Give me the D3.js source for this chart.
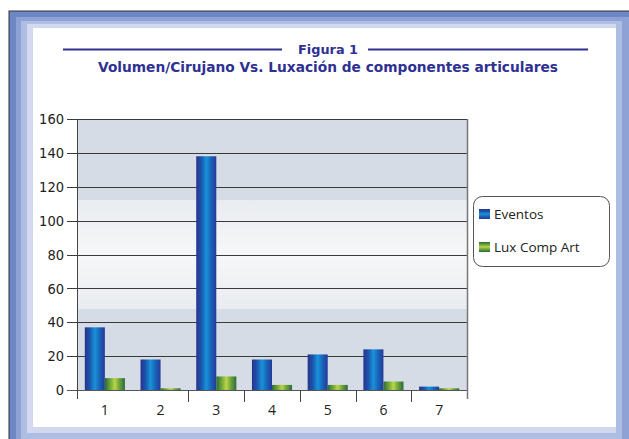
<!DOCTYPE html>
<head>
<meta charset='utf-8'>
<style>
  body { margin: 0; background: #fff; }
  svg { display: block; }
  .ylab { font-family: 'Liberation Sans Narrow', 'DejaVu Sans Condensed', sans-serif; font-size: 14.5px; fill: #222; }
  .xlab { font-family: 'Open Sans', 'Noto Sans', sans-serif; font-size: 14px; fill: #222; }
  .title { font-family: 'DejaVu Sans', sans-serif; font-weight: bold; fill: #2e3192; }
  .legend text { font-family: 'Open Sans', 'Noto Sans', sans-serif; font-size: 13.5px; fill: #222; }
</style>
</head>
<body>
<div id='vis'></div>
<script src='https://d3js.org/d3.v7.min.js'></script>
<script>
  const categories = ['1', '2', '3', '4', '5', '6', '7']
  const series = ['Eventos', 'Lux Comp Art']
  const eventos = [37, 18, 138, 18, 21, 24, 2]
  const luxCompArt = [7, 1, 8, 3, 3, 5, 1]
  const yTicks = [0, 20, 40, 60, 80, 100, 120, 140, 160]
  const titleTop = 'Figura 1'
  const titleMain = 'Volumen/Cirujano Vs. Luxación de componentes articulares'

  const W = 629, H = 439
  const plot = {left: 77, right: 467, top: 119, bottom: 390}

  const rows = categories.map((c, i) => ({cat: c, values: [eventos[i], luxCompArt[i]]}))

  const svg = d3.select('#vis').append('svg')
    .attr('width', W).attr('height', H)

  const defs = svg.append('defs')
  function grad(id, stops, vertical) {
    const g = defs.append('linearGradient').attr('id', id)
      .attr('x1', 0).attr('y1', 0)
      .attr('x2', vertical ? 0 : 1).attr('y2', vertical ? 1 : 0)
    stops.forEach(s => g.append('stop').attr('offset', s[0]).attr('stop-color', s[1]))
  }
  const blueStops = [[0, '#28338e'], [0.25, '#1b55ab'], [0.5, '#1a92da'], [0.75, '#1862b6'], [1, '#263a98']]
  const greenStops = [[0, '#2b6c36'], [0.3, '#79ad38'], [0.5, '#b9d64c'], [0.7, '#74a83a'], [1, '#2b6b3c']]
  grad('gBlue', blueStops, false)
  grad('gGreen', greenStops, false)
  grad('gBlueV', blueStops, true)
  grad('gGreenV', greenStops, true)
  grad('gBg', [[0, '#d6dce6'], [0.3, '#d6dce6'], [0.3, '#e9ecf0'], [0.5, '#f6f7f8'], [0.7, '#e9ecf0'], [0.7, '#d6dce6'], [1, '#d6dce6']], true)

  // cadre bleu
  const frame = [
    {x: 9, y: 11, fill: '#6c87c4', stroke: '#333'},
    {x: 16, y: 17, fill: '#8ea2d6'},
    {x: 21, y: 21, fill: '#aebde3'},
    {x: 27, y: 24, fill: '#d2d9ef'},
    {x: 33, y: 28, fill: '#ffffff'}
  ]
  const rightEdge = [660, 660, 622, 616, 616]
  const bottomEdge = [460, 460, 439, 433, 427]
  frame.forEach((f, i) => {
    svg.append('rect')
      .attr('x', f.x).attr('y', f.y)
      .attr('width', rightEdge[i] - f.x).attr('height', bottomEdge[i] - f.y)
      .attr('fill', f.fill)
      .attr('stroke', f.stroke || 'none')
  })

  // titre
  svg.append('line').attr('x1', 63).attr('x2', 282).attr('y1', 49.5).attr('y2', 49.5)
    .attr('stroke', '#2e3192').attr('stroke-width', 2)
  svg.append('line').attr('x1', 368).attr('x2', 588).attr('y1', 49.5).attr('y2', 49.5)
    .attr('stroke', '#2e3192').attr('stroke-width', 2)
  svg.append('text').attr('class', 'title')
    .attr('x', 328).attr('y', 54).attr('text-anchor', 'middle')
    .attr('font-size', 13).attr('textLength', 60).attr('lengthAdjust', 'spacingAndGlyphs')
    .text(titleTop)
  svg.append('text').attr('class', 'title')
    .attr('x', 328).attr('y', 72).attr('text-anchor', 'middle')
    .attr('font-size', 13.5).attr('textLength', 460).attr('lengthAdjust', 'spacingAndGlyphs')
    .text(titleMain)

  const x0 = d3.scaleBand().domain(categories).range([plot.left, plot.right]).paddingInner(0.28).paddingOuter(0.14)
  const x1 = d3.scaleBand().domain(series).range([0, x0.bandwidth()])
  const y = d3.scaleLinear().domain([0, 160]).range([plot.bottom, plot.top])
  const step = x0.step()

  // fond
  svg.append('rect').attr('x', plot.left).attr('y', plot.top)
    .attr('width', plot.right - plot.left).attr('height', plot.bottom - plot.top)
    .attr('fill', 'url(#gBg)')

  // grille + graduations
  svg.append('g').selectAll('line').data(yTicks).join('line')
    .attr('x1', plot.left - 10).attr('x2', plot.right)
    .attr('y1', d => Math.round(y(d)) + 0.5).attr('y2', d => Math.round(y(d)) + 0.5)
    .attr('stroke', d => d === 0 ? '#555' : '#3a3a3a').attr('stroke-width', 1)

  svg.append('g').selectAll('text').data(yTicks).join('text')
    .attr('class', 'ylab')
    .attr('x', plot.left - 13).attr('y', d => y(d)).attr('dy', '0.36em')
    .attr('text-anchor', 'end')
    .text(d => d)

  // barres
  const groups = svg.append('g').selectAll('g').data(rows).join('g')
    .attr('transform', d => `translate(${x0(d.cat)},0)`)
  groups.selectAll('rect').data(d => d.values.map((v, i) => ({key: series[i], v: v})))
    .join('rect')
    .attr('x', d => x1(d.key))
    .attr('width', x1.bandwidth())
    .attr('y', d => y(d.v))
    .attr('height', d => y(0) - y(d.v))
    .attr('fill', d => d.key === series[0] ? 'url(#gBlue)' : 'url(#gGreen)')

  // axes
  svg.append('line').attr('x1', plot.left + 0.5).attr('x2', plot.left + 0.5)
    .attr('y1', plot.top).attr('y2', 399).attr('stroke', '#444')
  svg.append('line').attr('x1', plot.right + 0.5).attr('x2', plot.right + 0.5)
    .attr('y1', plot.top).attr('y2', 399).attr('stroke', '#777').attr('stroke-width', 1.5)

  const sepTicks = categories.slice(2)
  svg.append('g').selectAll('line').data(sepTicks).join('line')
    .attr('x1', d => Math.round(x0(d) - x0.paddingInner() * step / 2) + 0.5)
    .attr('x2', d => Math.round(x0(d) - x0.paddingInner() * step / 2) + 0.5)
    .attr('y1', plot.bottom).attr('y2', 402).attr('stroke', '#444')

  svg.append('g').selectAll('text').data(categories).join('text')
    .attr('class', 'xlab')
    .attr('x', d => x0(d) + x0.bandwidth() / 2)
    .attr('y', 415).attr('text-anchor', 'middle')
    .text(d => d)

  // légende
  const legend = svg.append('g').attr('class', 'legend')
  legend.append('rect').attr('x', 473.5).attr('y', 196.5).attr('width', 136).attr('height', 70)
    .attr('rx', 9).attr('fill', '#fff').attr('stroke', '#555')
  const items = legend.selectAll('g').data(series).join('g')
    .attr('transform', (d, i) => `translate(479,${209 + i * 33})`)
  items.append('rect').attr('width', 11).attr('height', 10)
    .attr('fill', (d, i) => i === 0 ? 'url(#gBlueV)' : 'url(#gGreenV)')
  items.append('text').attr('x', 15).attr('y', 9.5).text(d => d)
</script>
</body>
